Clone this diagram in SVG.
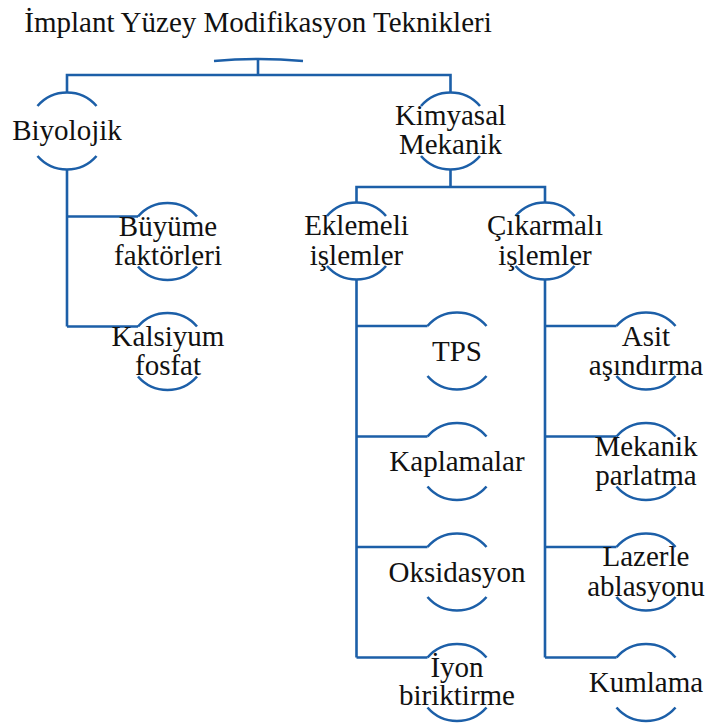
<svg xmlns="http://www.w3.org/2000/svg" width="706" height="723" viewBox="0 0 706 723">
<style>
text{font-family:"Liberation Serif","DejaVu Serif",serif;font-size:29px;fill:#111;text-anchor:middle}
.c{fill:none;stroke:#1c5fa8;stroke-width:2.6}
.a{fill:none;stroke:#1c5fa8;stroke-width:2.6}
</style>
<rect width="706" height="723" fill="#fff"/>
<g font-family="Liberation Serif, DejaVu Serif, serif">
<g id="title"><text x="258" y="32">İmplant Yüzey Modifikasyon Teknikleri</text></g>
<g id="connectors" class="c">
<path d="M214 61 Q258 57 303 61"/>
<path d="M258 59 V75 M67 92 V75 H450.5 V92"/>
<path d="M67 170 V326.5 M67 216.5 H138 M67 326.5 H138"/>
<path d="M450.5 170 V187 M356.5 202 V187 H545 V202"/>
<path d="M356.5 280 V657.5 M356.5 326 H427.5 M356.5 436.5 H427.5 M356.5 547 H427.5 M356.5 657.5 H427.5"/>
<path d="M545 280 V657.5 M545 326 H616.5 M545 436.5 H616.5 M545 547 H616.5 M545 657.5 H616.5"/>
</g>
<defs>
<path id="arcs" d="M-29.5 -25 A39 39 0 0 1 29.5 -25 M-29.5 25 A39 39 0 0 0 29.5 25"/>
</defs>
<g id="biyolojik"><use href="#arcs" class="a" transform="translate(67 131)"/><text x="67" y="140">Biyolojik</text></g>
<g id="kimyasal"><use href="#arcs" class="a" transform="translate(450.5 131)"/><text x="450.5" y="125">Kimyasal</text><text x="450.5" y="154">Mekanik</text></g>
<g id="buyume"><use href="#arcs" class="a" transform="translate(167.5 241.5)"/><text x="168" y="235.5">Büyüme</text><text x="168" y="265">faktörleri</text></g>
<g id="kalsiyum"><use href="#arcs" class="a" transform="translate(167.5 351.5)"/><text x="168" y="345.5">Kalsiyum</text><text x="168" y="375">fosfat</text></g>
<g id="eklemeli"><use href="#arcs" class="a" transform="translate(356.5 241)"/><text x="356.5" y="235">Eklemeli</text><text x="356.5" y="265">işlemler</text></g>
<g id="cikarmali"><use href="#arcs" class="a" transform="translate(545 241)"/><text x="545" y="235">Çıkarmalı</text><text x="545" y="265">işlemler</text></g>
<g id="tps"><use href="#arcs" class="a" transform="translate(457 351)"/><text x="457" y="360.5">TPS</text></g>
<g id="kaplamalar"><use href="#arcs" class="a" transform="translate(457 461.5)"/><text x="457" y="470.5">Kaplamalar</text></g>
<g id="oksidasyon"><use href="#arcs" class="a" transform="translate(457 572)"/><text x="457" y="581.5">Oksidasyon</text></g>
<g id="iyon"><use href="#arcs" class="a" transform="translate(457 682.5)"/><text x="457" y="676.5">İyon</text><text x="457" y="705">biriktirme</text></g>
<g id="asit"><use href="#arcs" class="a" transform="translate(646 351)"/><text x="646" y="345.5">Asit</text><text x="646" y="375">aşındırma</text></g>
<g id="mekanik"><use href="#arcs" class="a" transform="translate(646 461.5)"/><text x="646" y="456">Mekanik</text><text x="646" y="485">parlatma</text></g>
<g id="lazerle"><use href="#arcs" class="a" transform="translate(646 572)"/><text x="646" y="565.5">Lazerle</text><text x="646" y="595.5">ablasyonu</text></g>
<g id="kumlama"><use href="#arcs" class="a" transform="translate(646 682.5)"/><text x="646" y="691.5">Kumlama</text></g>
</g>
</svg>
